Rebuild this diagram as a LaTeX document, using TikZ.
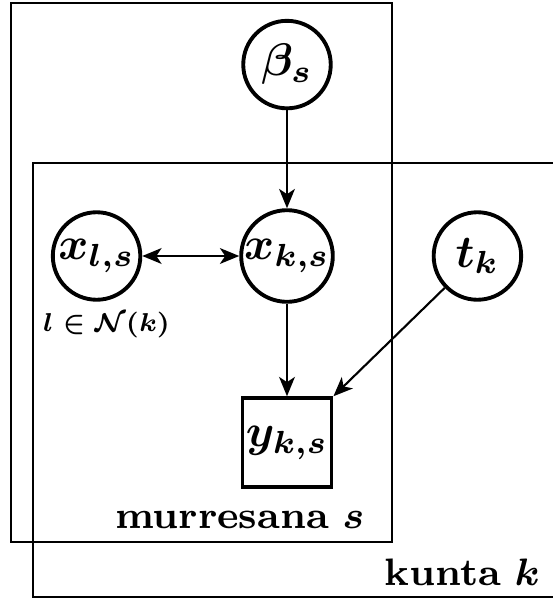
\documentclass[tikz,border=0pt]{standalone}
\usepackage{amsmath}
\usepackage{amssymb}
\usepackage{graphicx}
\usepackage{tikz}
\usetikzlibrary{fit,positioning,arrows.meta}

% node texts are set small in bold math and blown up
\newcommand{\enl}[2][2.6]{\scalebox{#1}{\boldmath#2}}

\begin{document}
\begin{tikzpicture}[>={Stealth[length=11pt,width=9pt,inset=3pt]},
  rv/.style={draw, circle, line width=2.2pt, minimum size=1.75cm, inner sep=0pt},
  obs/.style={draw, rectangle, line width=2.2pt, minimum size=1.78cm, inner sep=0pt},
  plate/.style={draw, rectangle, line width=1.7pt, inner sep=0pt},
  edge/.style={->, line width=1.2pt}]
\clip (-5.74,5.12) rectangle (5.32,-6.86);
\node[rv] (xk) at (0,0) {\enl{$x_{k,s}$}};
\node[rv, above=1.96cm of xk] (beta) {\enl{$\beta_s$}};
\node[rv, left=1.94cm of xk] (xl) {\enl{$x_{l,s}$}};
\node[rv, right=1.94cm of xk] (t) {\enl{$t_k$}};
\node[obs, below=1.85cm of xk] (y) {\enl{$y_{k,s}$}};
\node[below=0.2cm of xl, xshift=0.2cm, inner sep=0pt] (nb) {\enl[2.1]{\scriptsize$l\in\mathcal{N}(k)$}};
% plates
\coordinate (m1) at (-5.52,5.06); \coordinate (m2) at (2.10,-5.72);
\node[plate, fit=(m1)(m2)] (murre) {};
\coordinate (k1) at (-5.08,1.86); \coordinate (k2) at (6.2,-6.82);
\node[plate, fit=(k1)(k2)] (kunta) {};
\node[anchor=base east, inner sep=0pt] (lm) at ([shift={(-0.58,0.30)}]murre.south east)
  {\enl[2.72]{\footnotesize\textbf{murresana} $s$}};
\node[anchor=base east, inner sep=0pt] (lk) at (5.06,-6.58)
  {\enl[2.72]{\footnotesize\textbf{kunta} $k$}};
% edges
\draw[edge] (beta) -- (xk);
\draw[edge, <->] (xl) -- (xk);
\draw[edge] (xk) -- (y);
\draw[edge] (t) -- (y.north east);
\end{tikzpicture}
\end{document}
